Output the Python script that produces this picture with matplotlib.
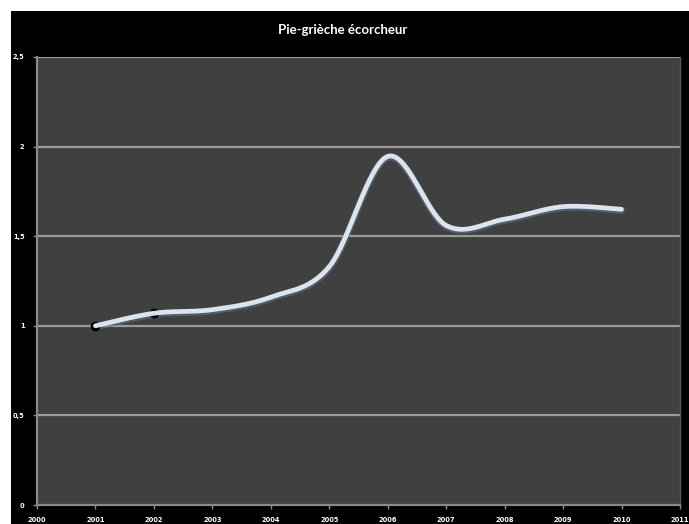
import numpy as np
import matplotlib
matplotlib.use("Agg")
import matplotlib.pyplot as plt
from matplotlib.patches import Rectangle

years = [2001, 2002, 2003, 2004, 2005, 2006, 2007, 2008, 2009, 2010]
values = [1.00, 1.07, 1.09, 1.16, 1.33, 1.945, 1.56, 1.595, 1.665, 1.65]
xticks = list(range(2000, 2012))
yticks = [0, 0.5, 1, 1.5, 2, 2.5]
ytick_labels = ["0", "0,5", "1", "1,5", "2", "2,5"]
title = "Pie-grièche écorcheur"


def excel_smooth(x, y, n=40):
    x = np.asarray(x, float)
    y = np.asarray(y, float)
    px = np.concatenate([[x[0]], x, [x[-1]]])
    py = np.concatenate([[y[0]], y, [y[-1]]])
    xs, ys = [], []
    for i in range(1, len(px) - 2):
        p0 = np.array([px[i], py[i]])
        p3 = np.array([px[i + 1], py[i + 1]])
        c1 = p0 + (np.array([px[i + 1], py[i + 1]]) - np.array([px[i - 1], py[i - 1]])) / 6
        c2 = p3 - (np.array([px[i + 2], py[i + 2]]) - np.array([px[i], py[i]])) / 6
        t = np.linspace(0, 1, n)[:, None]
        b = (1 - t) ** 3 * p0 + 3 * (1 - t) ** 2 * t * c1 + 3 * (1 - t) * t ** 2 * c2 + t ** 3 * p3
        xs.extend(b[:, 0])
        ys.extend(b[:, 1])
    return np.array(xs), np.array(ys)


fig = plt.figure(figsize=(6.89, 5.24), dpi=100, facecolor="white")
fig.patches.append(Rectangle((11 / 689, 0), 1, 1 - 11 / 524, transform=fig.transFigure,
                             facecolor="black", edgecolor="none", zorder=-10))

ax = fig.add_axes([37 / 689, 1 - 505 / 524, (680 - 37) / 689, (505 - 57) / 524])
ax.set_zorder(1)
ax.set_facecolor("#404040")
ax.set_xlim(2000, 2011)
ax.set_ylim(0, 2.5)
ax.set_xticks(xticks)
ax.set_xticklabels([str(v) for v in xticks])
ax.set_yticks(yticks)
ax.set_yticklabels(ytick_labels)
for g in yticks[1:]:
    ax.axhline(g, color="#9a9a9a", lw=1.6, zorder=1)

for s in ["left", "bottom"]:
    ax.spines[s].set_color("#8a8a8a")
    ax.spines[s].set_linewidth(1.6)
ax.spines["top"].set_visible(False)
ax.spines["right"].set_color("#5a5a5a")
ax.spines["right"].set_linewidth(1.0)
ax.tick_params(colors="#8a8a8a", length=3, width=1, labelcolor="white", labelsize=4.8, pad=6)
for lab in ax.get_xticklabels() + ax.get_yticklabels():
    lab.set_fontweight("bold")

sx, sy = excel_smooth(years, values)
ax.plot(sx, sy - 0.006, color="#5d6f8a", lw=5.0, alpha=0.6, solid_capstyle="round", zorder=2)
ax.plot(years[:2], values[:2], "o", ms=6, color="black", zorder=2.5, clip_on=False)
ax.plot(sx, sy, color="#dde3ec", lw=3.4, solid_capstyle="round", zorder=3)

fig.text(0.497, 1 - 30 / 524, title, color="white", fontsize=9.5, fontweight="bold",
         family=["Lato", "DejaVu Sans"], ha="center", va="center")

fig.savefig("out.png", dpi=100, facecolor=fig.get_facecolor())
